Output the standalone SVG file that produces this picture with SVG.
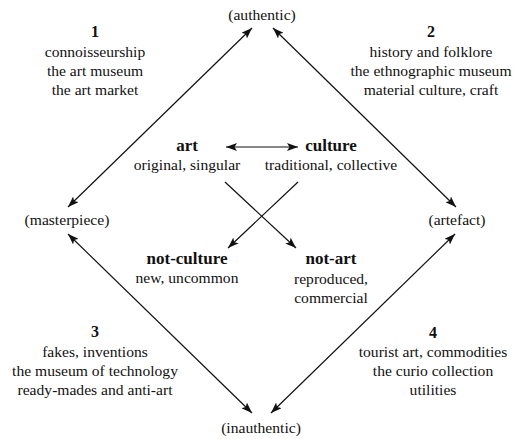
<svg xmlns="http://www.w3.org/2000/svg" width="513" height="439" viewBox="0 0 513 439">
<style>
text{fill:#111;text-anchor:middle;font-family:"Liberation Serif","Times New Roman",serif}
.t{font-size:15.6px}
.b{font-size:17px;font-weight:bold}
.n{font-size:16px;font-weight:bold}
.c line{stroke:#111;stroke-width:1.2;fill:none}
</style>
<defs>
<marker id="ah" viewBox="0 0 11 8" refX="11" refY="4" markerWidth="11" markerHeight="8" markerUnits="userSpaceOnUse" orient="auto-start-reverse">
<path d="M0,0 L11,4 L0,8 L2.5,4 z" fill="#111"/>
</marker>
</defs>
<rect width="513" height="439" fill="#fff"/>
<g class="c" id="connectors">
<line x1="252" y1="28" x2="68" y2="207" marker-start="url(#ah)" marker-end="url(#ah)"/>
<line x1="273" y1="28" x2="456" y2="207" marker-start="url(#ah)" marker-end="url(#ah)"/>
<line x1="68" y1="234" x2="252" y2="413" marker-start="url(#ah)" marker-end="url(#ah)"/>
<line x1="455" y1="234" x2="271" y2="413" marker-start="url(#ah)" marker-end="url(#ah)"/>
<line x1="226" y1="147" x2="298" y2="147" marker-start="url(#ah)" marker-end="url(#ah)"/>
<line x1="225" y1="182" x2="296" y2="248" marker-end="url(#ah)"/>
<line x1="298" y1="182" x2="228" y2="248" marker-end="url(#ah)"/>
</g>
<g id="authentic"><text class="t" x="262" y="20">(authentic)</text></g>
<g id="inauthentic"><text class="t" x="261" y="433">(inauthentic)</text></g>
<g id="masterpiece"><text class="t" x="67" y="225">(masterpiece)</text></g>
<g id="artefact"><text class="t" x="457" y="225">(artefact)</text></g>
<g id="q1">
<text class="n" x="95" y="37">1</text>
<text class="t" x="95" y="57">connoisseurship</text>
<text class="t" x="95" y="76">the art museum</text>
<text class="t" x="95" y="95">the art market</text>
</g>
<g id="q2">
<text class="n" x="431" y="37">2</text>
<text class="t" x="431" y="57">history and folklore</text>
<text class="t" x="431" y="76">the ethnographic museum</text>
<text class="t" x="431" y="95">material culture, craft</text>
</g>
<g id="q3">
<text class="n" x="95" y="337">3</text>
<text class="t" x="95" y="357">fakes, inventions</text>
<text class="t" x="95" y="376">the museum of technology</text>
<text class="t" x="95" y="395">ready-mades and anti-art</text>
</g>
<g id="q4">
<text class="n" x="433" y="338">4</text>
<text class="t" x="433" y="357">tourist art, commodities</text>
<text class="t" x="433" y="376">the curio collection</text>
<text class="t" x="433" y="395">utilities</text>
</g>
<g id="art">
<text class="b" x="187" y="151">art</text>
<text class="t" x="187" y="170">original, singular</text>
</g>
<g id="culture">
<text class="b" x="331" y="151">culture</text>
<text class="t" x="331" y="170">traditional, collective</text>
</g>
<g id="not-culture">
<text class="b" x="187" y="264">not-culture</text>
<text class="t" x="187" y="283">new, uncommon</text>
</g>
<g id="not-art">
<text class="b" x="331" y="264">not-art</text>
<text class="t" x="331" y="284">reproduced,</text>
<text class="t" x="331" y="303">commercial</text>
</g>
</svg>
